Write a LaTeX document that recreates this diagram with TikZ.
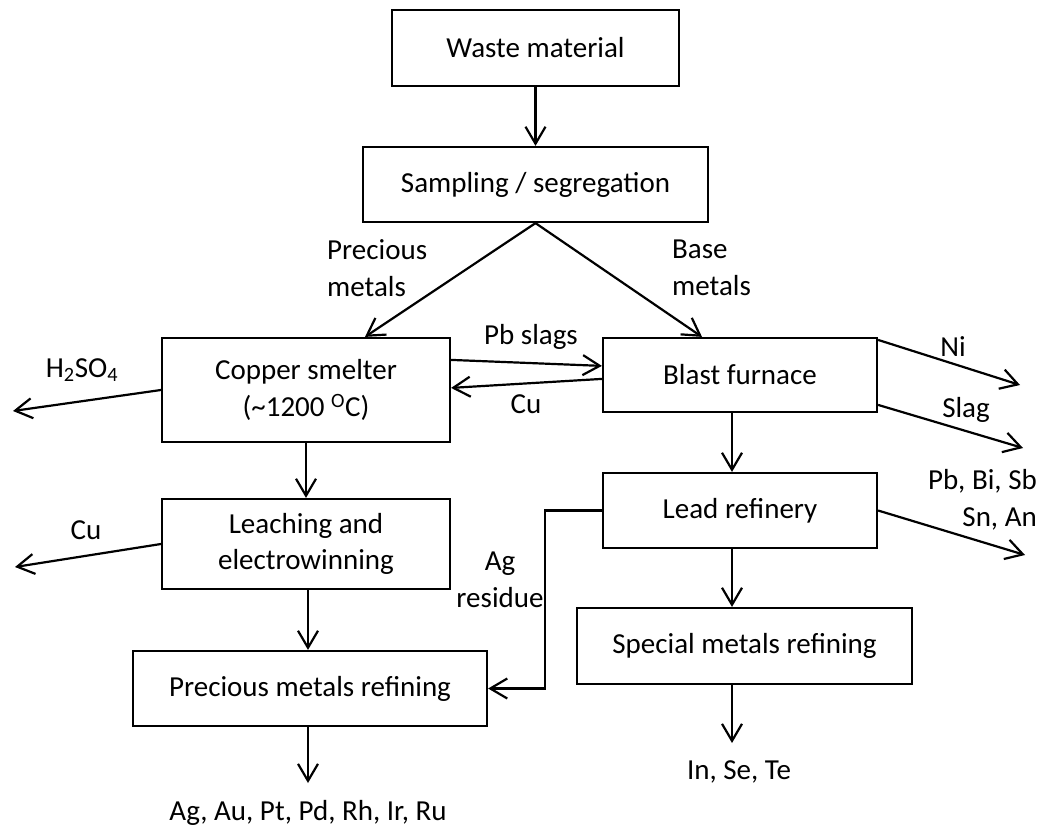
\documentclass[tikz,border=0pt]{standalone}
\usepackage{fontspec}
\setmainfont{Carlito}
\usetikzlibrary{arrows.meta,calc}
\begin{document}
\begin{tikzpicture}[x=1pt,y=-1pt,
  every node/.style={font=\fontsize{29}{36.5}\selectfont, inner sep=0pt},
  box/.style={draw, line width=2.2pt, align=center},
  lbl/.style={align=center},
  arr/.style={line width=2.2pt, -{Straight Barb[length=17pt,width=20pt,line width=2.2pt]}}
]
\useasboundingbox (0,0) rectangle (1041,828);

% boxes
\node[box, minimum width=287pt, minimum height=76pt] (waste) at (535.5,48) {Waste material};
\node[box, minimum width=345pt, minimum height=75pt] (samp) at (535.5,184.5) {Sampling / segregation};
\node[box, minimum width=288pt, minimum height=104pt] (copper) at (306,390) {Copper smelter\\(\textasciitilde1200 \textsuperscript{O}C)};
\node[box, minimum width=288pt, minimum height=90pt] (leach) at (306,544) {Leaching and\\electrowinning};
\node[box, minimum width=354pt, minimum height=75pt] (prec) at (310,688.5) {Precious metals refining};
\node[box, minimum width=274pt, minimum height=74pt] (blast) at (740,375) {Blast furnace};
\node[box, minimum width=274pt, minimum height=75pt] (lead) at (740,510.5) {Lead refinery};
\node[box, minimum width=335pt, minimum height=76pt] (special) at (744.5,646) {Special metals refining};

% helper coordinates
\coordinate (cx) at (365,0);
\coordinate (bx) at (702,0);
\coordinate (xb) at (732,0);
\coordinate (xr) at (545,0);
\coordinate (h2end) at (13,411);
\coordinate (cuend) at (15,567);
\coordinate (niend) at (1020,385);
\coordinate (slagend) at (1023,448);
\coordinate (pbend) at (1025,555);
\coordinate (precend) at (308,783);
\coordinate (specend) at (732,743);

% connectors
\draw[arr] (waste.south) -- (samp.north);
\draw[arr] (samp.south) -- (copper.north -| cx);
\draw[arr] (samp.south) -- (blast.north -| bx);
\draw[arr] ($(copper.north east)+(0,23)$) -- ($(blast.north west)+(0,29)$);
\draw[arr] ($(blast.north west)+(0,42)$) -- ($(copper.north east)+(0,51)$);
\draw[arr] (copper.west) -- (h2end);
\draw[arr] (copper.south) -- (leach.north);
\draw[arr] (leach.west) -- (cuend);
\draw[arr] ($(leach.south)+(2,0)$) -- ($(prec.north)+(-2,0)$);
\draw[arr] ($(prec.south)+(-2,0)$) -- (precend);
\draw[arr] ($(blast.north east)+(0,3)$) -- (niend);
\draw[arr] ($(blast.north east)+(0,68)$) -- (slagend);
\draw[arr] (blast.south -| xb) -- (lead.north -| xb);
\draw[arr] (lead.east) -- (pbend);
\draw[arr] (lead.south -| xb) -- (special.north -| xb);
\draw[arr] (special.south -| xb) -- (specend);
\draw[arr] (lead.west) -- (lead.west -| xr) |- (prec.east);

% labels
\node[align=left, anchor=west] (lprec) at (327,268) {Precious\\metals};
\node[align=left, anchor=west] (lbase) at (672,268) {Base\\metals};
\node (lpbs) at (531,337) {Pb slags};
\node (lcu1) at (526,404) {Cu};
\node (lh2) at (82,370) {H\textsubscript{2}SO\textsubscript{4}};
\node (lcu2) at (86,530) {Cu};
\node (lni) at (953,347) {Ni};
\node (lslag) at (966,410) {Slag};
\node[align=right, anchor=east] (lpbbi) at (1037,500) {Pb, Bi, Sb\\Sn, An};
\node[lbl] (lag) at (500,580) {Ag\\residue};
\node (lagau) at (308,813) {Ag, Au, Pt, Pd, Rh, Ir, Ru};
\node (linse) at (739,772) {In, Se, Te};
\end{tikzpicture}
\end{document}
